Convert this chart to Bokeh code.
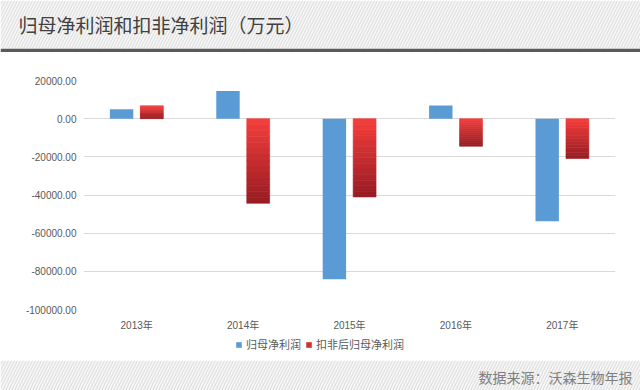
from bokeh.plotting import figure
from bokeh.models import (ColumnDataSource, FactorRange, Range1d, FixedTicker,
                          NumeralTickFormatter, BoxAnnotation, Label, Legend, LegendItem)
from bokeh.transform import dodge
from bokeh.embed import file_html
from bokeh.resources import INLINE

# ---------------- data ----------------
years = ["2013年", "2014年", "2015年", "2016年", "2017年"]
net_profit = [4870, 14450, -84100, 6950, -53800]            # 归母净利润
deducted_profit = [6800, -44350, -41000, -14460, -20900]    # 扣非后归母净利润
series_names = ["归母净利润", "扣非后归母净利润"]
y_ticks = [20000, 0, -20000, -40000, -60000, -80000, -100000]
title_text = "归母净利润和扣非净利润（万元）"
source_text = "数据来源：沃森生物年报"

W = 640
FONT = "'Liberation Sans', 'Noto Sans CJK SC', sans-serif"
CJK = "'Noto Sans CJK SC', sans-serif"
BLUE = "#5b9bd5"
RED_MID = "#d0302f"


def strip(height):
    f = figure(width=W, height=height, x_range=Range1d(0, W), y_range=Range1d(height, 0),
               toolbar_location=None, output_backend="svg", min_border=0,
               outline_line_color=None, x_axis_location=None, y_axis_location=None,
               border_fill_color="white", background_fill_color="white")
    f.grid.visible = False
    return f


# ---------------- header ----------------
HH = 52
header = strip(HH)
header.add_layout(BoxAnnotation(top=0, bottom=48.3, fill_color="#f7f7f7", fill_alpha=1,
                                hatch_pattern="/", hatch_color="#e0e0e0", hatch_scale=6,
                                hatch_weight=1.2, line_color=None))
header.add_layout(BoxAnnotation(top=48.3, bottom=51.7, fill_color="#5a5a5a", fill_alpha=1,
                                line_color=None))
header.add_layout(Label(x=18, y=24, text=title_text, text_font=CJK, text_font_size="19px",
                        text_color="#404040", text_baseline="middle", text_align="left"))

# ---------------- main chart ----------------
p = figure(x_range=FactorRange(*years, range_padding=0), y_range=Range1d(-100000, 20000),
           width=W, height=281, min_border_left=83, min_border_right=25,
           min_border_top=28, min_border_bottom=24,
           toolbar_location=None, output_backend="svg", outline_line_color=None,
           background_fill_color="white", border_fill_color="white")

src_blue = ColumnDataSource(dict(year=years, net=net_profit))
p.vbar(x=dodge("year", -0.142, range=p.x_range), top="net", bottom=0, width=0.22,
       source=src_blue, fill_color=BLUE, line_color=None)

# red bars with a top-to-bottom gradient (bright to dark), built from the values
n = 14
c_top = (0xf6, 0x3e, 0x3c)
c_bot = (0x96, 0x1c, 0x22)


def mix(t):
    return "#%02x%02x%02x" % tuple(int(round(a + (b - a) * t)) for a, b in zip(c_top, c_bot))


rows = {"year": [], "top": [], "bottom": [], "color": []}
for yr, v in zip(years, deducted_profit):
    for k in range(n):
        t = (k + 0.5) / n if v < 0 else 1 - (k + 0.5) / n
        rows["year"].append(yr)
        rows["bottom"].append(v * k / n)
        rows["top"].append(v * (k + 1) / n)
        rows["color"].append(mix(t))
src_red = ColumnDataSource(rows)
p.vbar(x=dodge("year", 0.142, range=p.x_range), top="top", bottom="bottom", width=0.215,
       source=src_red, fill_color="color", line_color="color", line_width=0.6)

p.yaxis.ticker = FixedTicker(ticks=y_ticks)
p.yaxis.formatter = NumeralTickFormatter(format="0.00")
for ax in (p.xaxis, p.yaxis):
    ax.axis_line_color = None
    ax.major_tick_line_color = None
    ax.minor_tick_line_color = None
    ax.major_tick_out = 0
    ax.major_tick_in = 0
    ax.minor_tick_out = 0
    ax.minor_tick_in = 0
    ax.major_label_text_font = FONT
    ax.major_label_text_font_size = "10px"
    ax.major_label_text_color = "#595959"
p.yaxis.major_label_standoff = 7
p.xaxis.major_label_standoff = 10
p.xgrid.grid_line_color = None
p.ygrid.grid_line_color = "#d9d9d9"
p.ygrid.grid_line_width = 1

# ---------------- legend strip ----------------
LH = 27
leg = strip(LH)
# zero-height placeholder marks that only carry the legend swatch styles
swatch = ColumnDataSource(dict(x=[0], top=[0]))
g1 = leg.vbar(x="x", top="top", bottom=0, width=0, source=swatch, fill_color=BLUE,
              line_color=None)
g2 = leg.vbar(x="x", top="top", bottom=0, width=0, source=swatch, fill_color=RED_MID,
              line_color=None)
legend = Legend(items=[LegendItem(label=series_names[0], renderers=[g1]),
                       LegendItem(label=series_names[1], renderers=[g2])],
                orientation="horizontal", location=(235, 8),
                glyph_width=7, glyph_height=7, label_text_font=CJK,
                label_text_font_size="11px", label_text_color="#595959",
                label_standoff=4, spacing=4, padding=0, margin=0,
                border_line_color=None, background_fill_alpha=0, label_height=11)
leg.add_layout(legend)

# ---------------- footer ----------------
FH = 30
footer = strip(FH)
footer.add_layout(BoxAnnotation(top=0, bottom=FH, fill_color="#f7f7f7", fill_alpha=1,
                                hatch_pattern="/", hatch_color="#e0e0e0", hatch_scale=6,
                                hatch_weight=1.2, line_color=None))
footer.add_layout(Label(x=632, y=16, text=source_text, text_font=CJK, text_font_size="14px",
                        text_color="#7f7f7f", text_baseline="middle", text_align="right"))

open("out.html", "w").write(file_html([header, p, leg, footer], INLINE))
